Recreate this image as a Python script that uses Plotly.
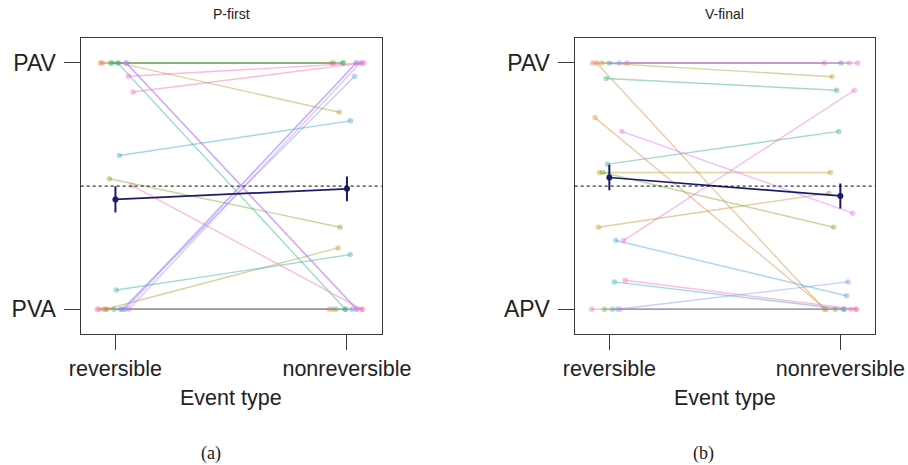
import plotly.graph_objects as go

# ---------------- data ----------------
categories = ["reversible", "nonreversible"]
titles = ["P-first", "V-final"]
captions = ["(a)", "(b)"]
ylabels_a = ["PVA", "PAV"]
ylabels_b = ["APV", "PAV"]

# Panel (a): P-first, per-subject proportion PAV for each event type
a_colors = ["#f77189", "#e8805c", "#dc8932", "#c39532", "#ae9d31", "#b49a31", "#97a431",
            "#77ab31", "#50b131", "#33b07a", "#34ae91", "#36ada4", "#36ada4", "#38a9c5",
            "#38a9c5", "#6e9bf4", "#8e95f4", "#cc7af4", "#b483f4", "#a38cf4", "#f565cc",
            "#e16ff4", "#f66bad", "#f56fa0", "#f77189"]
a_rev = [0.0, 1.0, 1.0, 0.0, 1.0, 0.0, 0.0, 0.53, 1.0, 1.0, 1.0, 0.078, 0.0, 0.624,
         0.0, 0.0, 0.0, 1.0, 1.0, 0.0, 0.946, 0.0, 0.882, 0.502, 0.0]
a_nonrev = [0.0, 1.0, 1.0, 0.0, 0.80, 0.249, 0.0, 0.333, 1.0, 1.0, 0.0, 0.222, 0.0, 0.765,
            0.0, 0.946, 1.0, 0.0, 0.0, 1.0, 1.0, 1.0, 1.0, 0.0, 0.0]
a_jit_rev = [-0.079, -0.065, -0.057, -0.05, 0.013, -0.043, -0.036, -0.026, -0.022, -0.014,
             0.01, 0.004, -0.007, 0.017, 0.022, 0.029, 0.035, 0.047, 0.047, 0.043, 0.056,
             0.058, 0.076, 0.072, -0.07]
a_jit_nonrev = [0.065, -0.065, -0.058, -0.061, -0.033, -0.038, -0.047, -0.029, -0.017, -0.017,
                -0.007, 0.014, -0.007, 0.015, 0.022, 0.033, 0.04, 0.044, 0.04, 0.04, 0.065,
                0.057, 0.072, 0.065, -0.076]
a_mean = [0.446, 0.489]
a_se = [0.053, 0.05]

# Panel (b): V-final
b_colors = ["#f77189", "#dc8932", "#e08a3e", "#c39532", "#ae9d31", "#b89a31", "#77ab31",
            "#4fae47", "#33b07a", "#34af8a", "#36ada4", "#36ada4", "#38a9c5", "#4aa5e0",
            "#6e9bf4", "#a38cf4", "#b483f4", "#e16ff4", "#ee6be0", "#f56fb9", "#f66bad",
            "#f77189"]
b_rev = [1.0, 1.0, 0.778, 0.333, 1.0, 0.555, 0.555, 0.0, 0.937, 0.589, 1.0, 0.0, 0.111,
         0.279, 0.0, 1.0, 0.0, 0.722, 0.279, 0.118, 1.0, 0.0]
b_nonrev = [1.0, 0.0, 0.0, 0.471, 0.944, 0.555, 0.333, 0.0, 0.889, 0.722, 1.0, 0.0, 0.0,
            0.055, 0.111, 1.0, 0.0, 0.39, 0.889, 0.0, 1.0, 0.0]
b_jit_rev = [-0.072, -0.055, -0.062, -0.048, -0.033, -0.043, -0.029, -0.022, -0.014, -0.007,
             0.0, 0.013, 0.021, 0.028, 0.035, 0.042, 0.046, 0.054, 0.061, 0.068, 0.075, -0.076]
b_jit_nonrev = [-0.069, -0.069, -0.062, -0.05, -0.036, -0.043, -0.029, -0.022, -0.016, -0.007,
                0.003, 0.013, 0.017, 0.027, 0.033, 0.039, 0.046, 0.053, 0.06, 0.068, 0.075, 0.068]
b_mean = [0.535, 0.46]
b_se = [0.052, 0.051]

# ---------------- figure ----------------
W, H = 908, 465
x_dom = [[80.7 / W, 381.7 / W], [574.7 / W, 875.0 / W]]
y_dom = [1 - 333.9 / H, 1 - 38.3 / H]

FONT = "Liberation Sans, Arial, sans-serif"
NAVY = "#1b1b6b"


def rgba(hexc, a):
    h = hexc.lstrip("#")
    r, g, b = int(h[0:2], 16), int(h[2:4], 16), int(h[4:6], 16)
    return f"rgba({r},{g},{b},{a})"


fig = go.Figure()

panels = [
    (a_colors, a_rev, a_nonrev, a_jit_rev, a_jit_nonrev, a_mean, a_se, ylabels_a),
    (b_colors, b_rev, b_nonrev, b_jit_rev, b_jit_nonrev, b_mean, b_se, ylabels_b),
]

for p, (cols, rev, non, jr, jn, mean, se, ylab) in enumerate(panels):
    xa = "x" if p == 0 else "x2"
    ya = "y" if p == 0 else "y2"
    for i in range(len(rev)):
        fig.add_trace(go.Scatter(
            x=[0 + jr[i], 1 + jn[i]], y=[rev[i], non[i]],
            mode="lines+markers", xaxis=xa, yaxis=ya, showlegend=False,
            line=dict(color=rgba(cols[i], 0.45), width=1.4),
            marker=dict(color=rgba(cols[i], 0.42), size=5.5, line=dict(width=0)),
            hoverinfo="skip",
        ))
    fig.add_trace(go.Scatter(
        x=[0, 1], y=mean, mode="lines+markers", xaxis=xa, yaxis=ya, showlegend=False,
        line=dict(color=NAVY, width=1.7),
        marker=dict(color=NAVY, size=6),
        error_y=dict(type="data", array=se, visible=True, color=NAVY, thickness=2, width=0),
    ))
    fig.add_shape(type="line", xref=f"{xa} domain", yref=ya, x0=0, x1=1, y0=0.5, y1=0.5,
                  line=dict(color="black", width=1, dash="dot"))

    axis_common = dict(showline=True, mirror=True, linecolor="#3a3a3a", linewidth=1.3,
                       ticks="outside", tickcolor="#3a3a3a", tickwidth=1.3,
                       showgrid=False, zeroline=False, automargin=False)
    fig.update_layout(**{
        ("xaxis" if p == 0 else "xaxis2"): dict(
            domain=x_dom[p], range=[-0.15, 1.15], tickvals=[0, 1], ticktext=categories,
            ticklen=15, anchor=ya, tickfont=dict(family=FONT, size=21.5, color="#222"),
            **axis_common),
        ("yaxis" if p == 0 else "yaxis2"): dict(
            domain=y_dom, range=[-0.1, 1.1], tickvals=[0, 1], ticktext=ylab,
            ticklen=16, anchor=xa, ticklabelstandoff=3,
            tickfont=dict(family=FONT, size=23, color="#222"),
            **axis_common),
    })

    cx = (x_dom[p][0] + x_dom[p][1]) / 2
    fig.add_annotation(text=titles[p], x=cx, y=1 - 14 / H, xref="paper", yref="paper",
                       showarrow=False, xanchor="center", yanchor="middle",
                       font=dict(family=FONT, size=14, color="#222"))
    fig.add_annotation(text="Event type", x=cx, y=1 - 398 / H, xref="paper", yref="paper",
                       showarrow=False, xanchor="center", yanchor="middle",
                       font=dict(family=FONT, size=21.5, color="#222"))
    cap_x = [211 / W, 703 / W][p]
    fig.add_annotation(text=captions[p], x=cap_x, y=1 - 453 / H, xref="paper", yref="paper",
                       showarrow=False, xanchor="center", yanchor="middle",
                       font=dict(family="Liberation Serif, DejaVu Serif, serif", size=18, color="#222"))

fig.update_layout(width=W, height=H, autosize=False, margin=dict(l=0, r=0, t=0, b=0, pad=0),
                  paper_bgcolor="white", plot_bgcolor="white")

fig.write_html("out.html")
